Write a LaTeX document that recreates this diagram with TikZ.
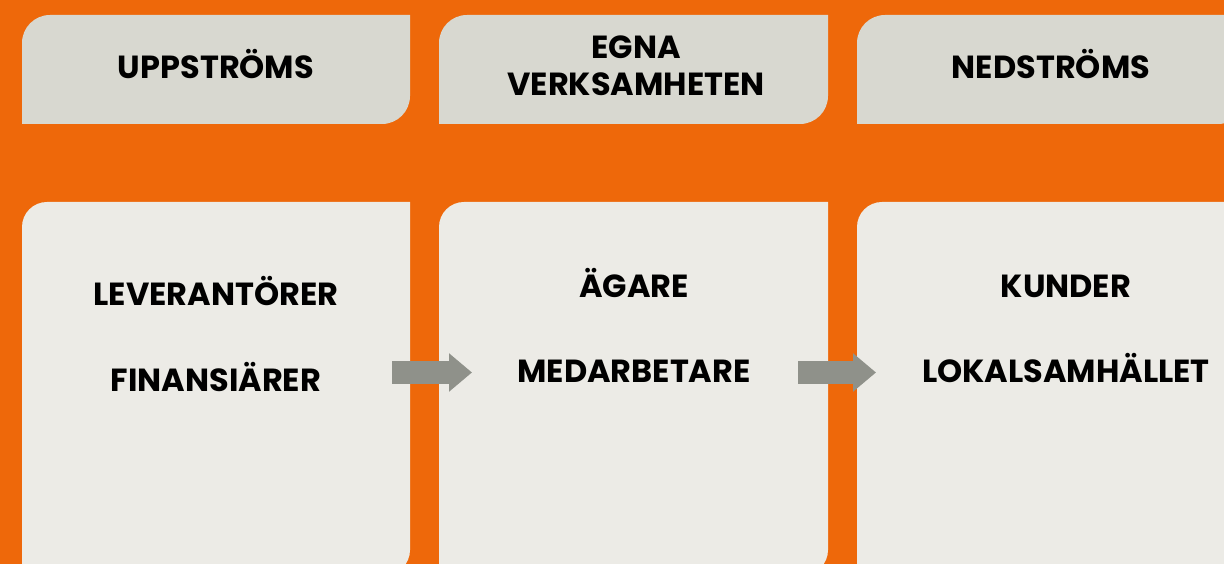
\documentclass[tikz,border=0pt]{standalone}
\usepackage{fontspec}
\setmainfont{Poppins}[UprightFont=* Bold]
\usetikzlibrary{arrows.meta}
\definecolor{bgorange}{RGB}{238,104,10}
\definecolor{headgrey}{RGB}{216,216,208}
\definecolor{bodygrey}{RGB}{236,235,230}
\definecolor{arrowgrey}{RGB}{143,145,138}
% box with rounded top-left and bottom-right corners: x1, y1 (bottom), x2, y2 (top), radius, colour
\newcommand{\splitbox}[6]{%
  \fill[#6] (#1,#2) -- (#1,#4-#5) arc[start angle=180, end angle=90, radius=#5]
    -- (#3,#4) -- (#3,#2+#5) arc[start angle=0, end angle=-90, radius=#5] -- cycle;}
\tikzset{
  boxtext/.style={anchor=base, inner sep=0pt, font=\fontsize{18.2}{20}\selectfont, text=black},
  flowarrow/.style={draw=arrowgrey, line width=0.46cm, -{Triangle[length=0.46cm, width=0.74cm]}}
}
\begin{document}
\begin{tikzpicture}[x=0.02cm, y=0.02cm]
\fill[bgorange] (0,0) rectangle (1224,564);
\useasboundingbox (0,0) rectangle (1224,564);
% header boxes
\splitbox{22}{440}{410}{549}{28}{headgrey}
\splitbox{439}{440}{828}{549}{28}{headgrey}
\splitbox{857}{440}{1246}{549}{28}{headgrey}
% body boxes
\splitbox{22}{-11}{410}{362}{25}{bodygrey}
\splitbox{439}{-11}{828}{362}{25}{bodygrey}
\splitbox{857}{-11}{1246}{362}{25}{bodygrey}
% headers
\node[boxtext] (up) at (216,485) {UPPSTRÖMS};
\node[boxtext] (egna) at (636,505) {EGNA};
\node[boxtext] (verk) at (636,468) {VERKSAMHETEN};
\node[boxtext] (ned) at (1051,485) {NEDSTRÖMS};
% stakeholders
\node[boxtext] (lev) at (216,258) {LEVERANTÖRER};
\node[boxtext] (fin) at (216,172) {FINANSIÄRER};
\node[boxtext] (aga) at (634,266) {ÄGARE};
\node[boxtext] (med) at (634,181) {MEDARBETARE};
\node[boxtext] (kun) at (1066,266) {KUNDER};
\node[boxtext] (lok) at (1066,181) {LOKALSAMHÄLLET};
% arrows
\coordinate (a1) at (392,191.5);
\coordinate (b1) at (472,191.5);
\coordinate (a2) at (798,191.5);
\coordinate (b2) at (876,191.5);
\draw[flowarrow] (a1) -- (b1);
\draw[flowarrow] (a2) -- (b2);
\end{tikzpicture}
\end{document}
